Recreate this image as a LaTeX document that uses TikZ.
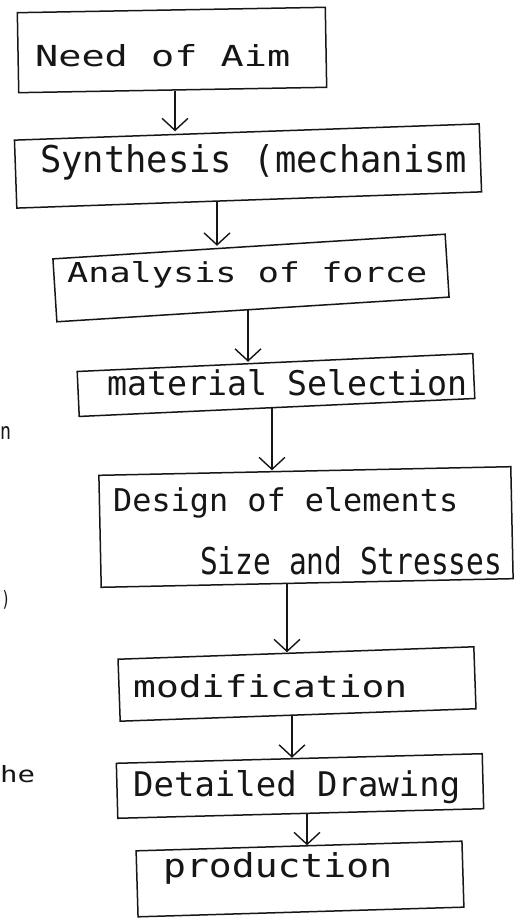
\documentclass[tikz,border=0pt]{standalone}
\usepackage{fontspec}
\setmainfont{DejaVu Sans Mono}
\usetikzlibrary{arrows.meta}
\definecolor{ink}{HTML}{161616}
% text stretched to a given width and height (pt)
\newcommand{\hw}[3]{\resizebox{#1pt}{#2pt}{#3}}

\begin{document}
\begin{tikzpicture}[x=1pt,y=1pt,
  box/.style={draw=ink, line width=1.5pt, inner sep=0pt},
  lbl/.style={inner sep=0pt, anchor=base west, text=ink},
  flow/.style={draw=ink, line width=1.4pt,
    -{Straight Barb[length=12pt,width=26pt,line width=1.4pt]}},
]
\fill[white] (0,0) rectangle (527,919);
\useasboundingbox (0,0) rectangle (527,919);

% boxes of the flow
\node[box, minimum width=308pt, minimum height=80pt,  rotate=1]   (b1) at (172,869) {};
\node[box, minimum width=465pt, minimum height=68pt,  rotate=2]   (b2) at (248,753) {};
\node[box, minimum width=393pt, minimum height=63pt,  rotate=3.6] (b3) at (251,641) {};
\node[box, minimum width=396pt, minimum height=45pt,  rotate=2.6] (b4) at (276,534) {};
\node[box, minimum width=412pt, minimum height=112pt, rotate=1.2] (b5) at (306,392) {};
\node[box, minimum width=356pt, minimum height=62pt,  rotate=2]   (b6) at (297,235) {};
\node[box, minimum width=366pt, minimum height=55pt,  rotate=1.5] (b7) at (300,133) {};
\node[box, minimum width=326pt, minimum height=66pt,  rotate=1.7] (b8) at (300,40)  {};

% box texts
\node[lbl] (t1)  at (35,852)  {\hw{255}{22}{Need of Aim}};
\node[lbl] (t2)  at (40,746)  {\hw{427}{28}{Synthesis (mechanism}};
\node[lbl] (t3)  at (67,636)  {\hw{360}{21}{Analysis of force}};
\node[lbl] (t4)  at (107,523) {\hw{360}{26}{material Selection}};
\node[lbl] (t5a) at (113,407) {\hw{345}{24}{Design of elements}};
\node[lbl] (t5b) at (200,344) {\hw{302}{28}{Size and Stresses}};
\node[lbl] (t6)  at (133,221) {\hw{274}{23}{modification}};
\node[lbl] (t7)  at (133,122) {\hw{327}{26}{Detailed Drawing}};
\node[lbl] (t8)  at (163,42)  {\hw{229}{25}{production}};

% fragments of writing at the left edge
\node[lbl] (m1) at (0,479) {\hw{11}{13}{n}};
\node[inner sep=0pt, text=ink] (m2) at (6,319) {\hw{9}{16}{)}};
\node[lbl] (m3) at (0,136) {\hw{35}{17}{he}};

% connectors
\draw[flow] (b1.south -| 175,0) -- (b2.north -| 175,0);
\draw[flow] (b2.south -| 217,0) -- (b3.north -| 217,0);
\draw[flow] (b3.south -| 248,0) -- (b4.north -| 248,0);
\draw[flow] (b4.south -| 272,0) -- (b5.north -| 272,0);
\draw[flow] (b5.south -| 287,0) -- (b6.north -| 287,0);
\draw[flow] (b6.south -| 292,0) -- (b7.north -| 292,0);
\draw[flow] (b7.south -| 307,0) -- (b8.north -| 307,0);
\end{tikzpicture}
\end{document}
